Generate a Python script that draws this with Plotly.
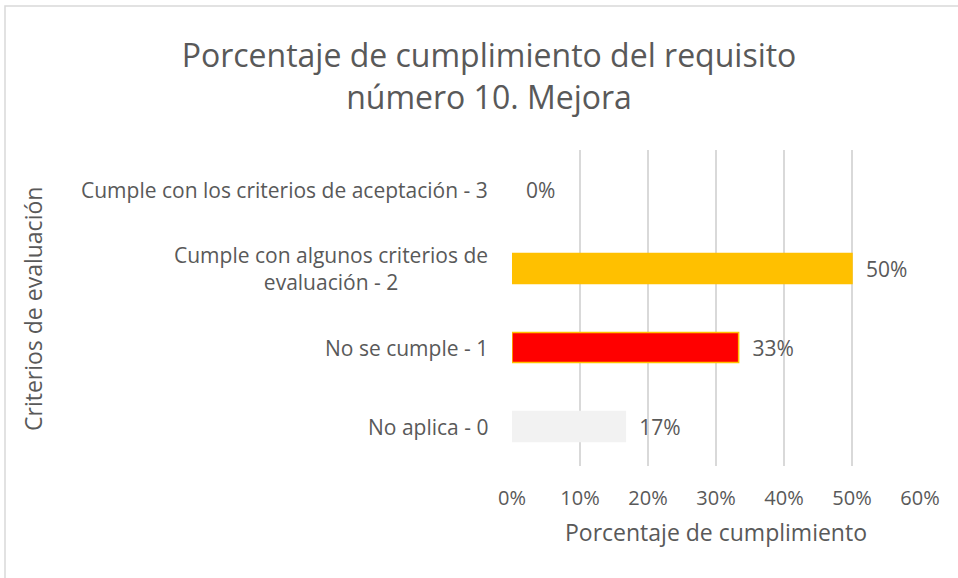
import plotly.graph_objects as go

categories = ["No aplica - 0", "No se cumple - 1",
              "Cumple con algunos criterios de<br>evaluación - 2",
              "Cumple con los criterios de aceptación - 3"]
values = [16.67, 33.33, 50.0, 0.0]
labels = ["17%", "33%", "50%", "0%"]
colors = ["#F2F2F2", "#FF0000", "#FFC000", "#FFC000"]
outlines = ["#F2F2F2", "#FFC000", "#FFC000", "rgba(0,0,0,0)"]
xticks = [0, 10, 20, 30, 40, 50, 60]
xticklabels = ["0%", "10%", "20%", "30%", "40%", "50%", "60%"]

font = "Open Sans"
grey = "#595959"

fig = go.Figure(go.Bar(
    x=values, y=categories, orientation="h",
    marker=dict(color=colors, line=dict(color=outlines, width=1.5)),
    text=labels, texttemplate="  %{text}", textposition="outside", cliponaxis=False,
    textfont=dict(family=font, size=21, color=grey),
    hoverinfo="skip",
))

L, R, T, B = 512, 38, 150, 112
W, H = 958, 578
pw, ph = W - L - R, H - T - B

fig.update_layout(
    width=W, height=H,
    margin=dict(l=L, r=R, t=T, b=B, autoexpand=False),
    paper_bgcolor="white", plot_bgcolor="white",
    bargap=0.62, showlegend=False,
    font=dict(family=font, color=grey),
    title=dict(text="Porcentaje de cumplimiento del requisito<br>número 10. Mejora",
               x=489 / W, xanchor="center", y=1 - 67 / H, yanchor="middle",
               font=dict(family=font, size=32, color=grey)),
    xaxis=dict(range=[0, 60], tickvals=xticks, ticktext=xticklabels,
               automargin=False,
               showgrid=True, gridcolor="#D9D9D9", gridwidth=1.5,
               zeroline=False, showline=False,
               ticks="outside", ticklen=14, tickcolor="rgba(0,0,0,0)",
               tickfont=dict(family=font, size=20, color=grey),
               title=dict(text="Porcentaje de cumplimiento", standoff=14,
                          font=dict(family=font, size=23, color=grey))),
    yaxis=dict(showgrid=False, zeroline=False, showline=False, automargin=False,
               showticklabels=False),
)

for cat in categories:
    fig.add_annotation(text=cat, xref="paper", yref="y", x=(490 - L) / pw, y=cat,
                       xanchor="right", yanchor="middle", align="center",
                       showarrow=False, font=dict(family=font, size=21, color=grey))

fig.add_annotation(text="Criterios de evaluación", textangle=-90,
                   xref="paper", yref="paper",
                   x=(33 - L) / pw, y=(H - B - 309) / ph,
                   showarrow=False, xanchor="center", yanchor="middle",
                   font=dict(family=font, size=23, color=grey))

fig.add_shape(type="rect", xref="paper", yref="paper",
              x0=(5 - L) / pw, x1=(975 - L) / pw,
              y0=(H - B - 600) / ph, y1=(H - B - 6) / ph,
              line=dict(color="#D9D9D9", width=1.5), layer="below")

fig.write_html("out.html", config={"displayModeBar": False},
               post_script="document.body.style.margin='0';document.body.style.overflow='hidden';")
